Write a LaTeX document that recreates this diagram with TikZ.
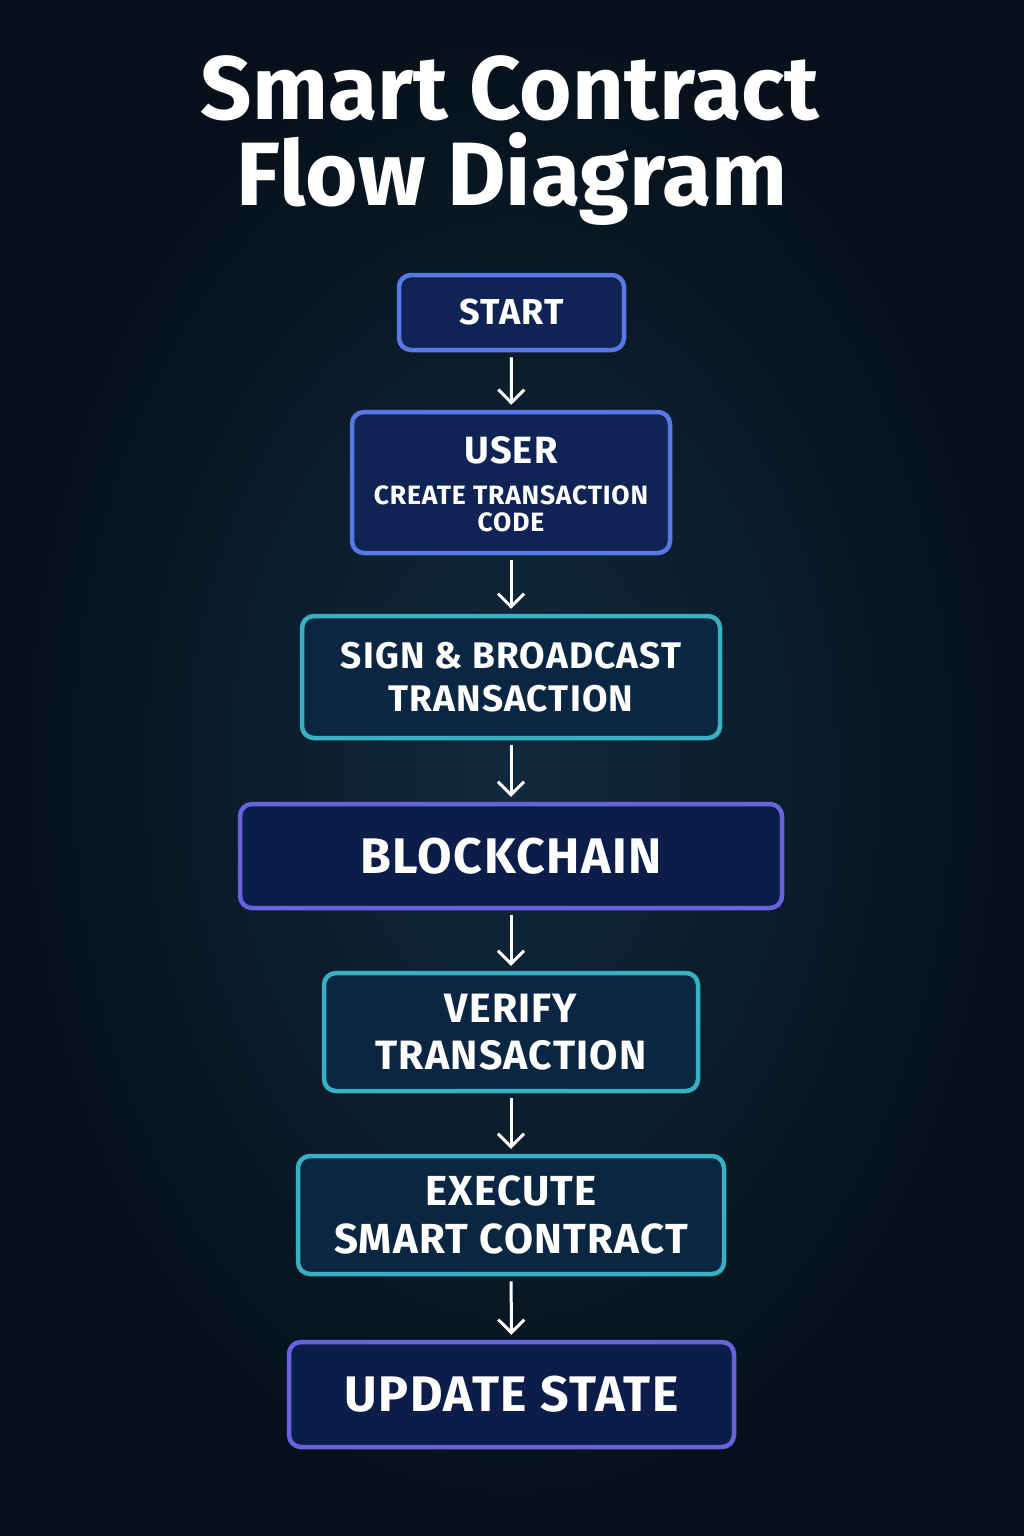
\documentclass[tikz,border=0pt]{standalone}
\usepackage{fontspec}
\setmainfont{Fira Sans}
\newfontfamily\boxfont{Fira Sans}[LetterSpace=3]
\usetikzlibrary{arrows.meta}

\definecolor{bgin}{HTML}{112A3E}
\definecolor{bgout}{HTML}{06101A}
\definecolor{blueline}{HTML}{5878E4}
\definecolor{tealline}{HTML}{37B0C2}
\definecolor{violetline}{HTML}{6862DC}
\definecolor{bluefill}{HTML}{0F2454}
\definecolor{tealfill}{HTML}{0A2642}
\definecolor{violetfill}{HTML}{0C1D4A}

\newcommand{\fsz}[1]{\boxfont\bfseries\fontsize{#1}{1.15\dimexpr#1pt\relax}\selectfont}

\begin{document}
\begin{tikzpicture}[x=1pt,y=-1pt,
  box/.style={rectangle,rounded corners=12pt,line width=4.5pt,text=white,
    align=center,inner sep=0pt},
  blue node/.style={box,draw=blueline,fill=bluefill},
  teal node/.style={box,draw=tealline,fill=tealfill},
  violet node/.style={box,draw=violetline,fill=violetfill}]

  % background
  \shade[inner color=bgin,outer color=bgout] (0,0) rectangle (1024,1536);
  \useasboundingbox (0,0) rectangle (1024,1536);

  % title
  \node[anchor=base,text=white,font=\bfseries\fontsize{90}{94}\selectfont] (t1) at (510,120) {Smart Contract};
  \node[anchor=base,text=white,font=\bfseries\fontsize{90}{94}\selectfont] (t2) at (512,205) {Flow Diagram};

  % steps
  \node[blue node,minimum width=225pt,minimum height=75pt,font=\fsz{36}] (1) at (511.5,312.5) {START};
  \node[blue node,minimum width=318pt,minimum height=141pt] (2) at (511,482.5) {};
  \node[text=white,font=\fsz{38}] (2a) at (511,450) {USER};
  \node[text=white,align=center,font=\fsz{26.5}] (2b) at (511,509) {CREATE TRANSACTION\\[-3pt]CODE};
  \node[teal node,minimum width=418pt,minimum height=122pt,font=\fsz{37}] (3) at (511,677) {SIGN \& BROADCAST\\TRANSACTION};
  \node[violet node,minimum width=542pt,minimum height=104pt,font=\fsz{50}] (4) at (511,856) {BLOCKCHAIN};
  \node[teal node,minimum width=374pt,minimum height=118pt,font=\fsz{41}] (5) at (511,1032) {VERIFY\\TRANSACTION};
  \node[teal node,minimum width=426pt,minimum height=118pt,font=\fsz{42}] (6) at (511,1215) {EXECUTE\\SMART CONTRACT};
  \node[violet node,minimum width=445pt,minimum height=105pt,font=\fsz{50}] (7) at (511.5,1394.5) {UPDATE STATE};

  \path[white,line width=3pt,-{Straight Barb[length=13pt,width=26pt,line width=3pt]},
    shorten <=5pt,shorten >=5pt]
   (1) edge (2)
   (2) edge (3)
   (3) edge (4)
   (4) edge (5)
   (5) edge (6)
   (6) edge (7);
\end{tikzpicture}
\end{document}
